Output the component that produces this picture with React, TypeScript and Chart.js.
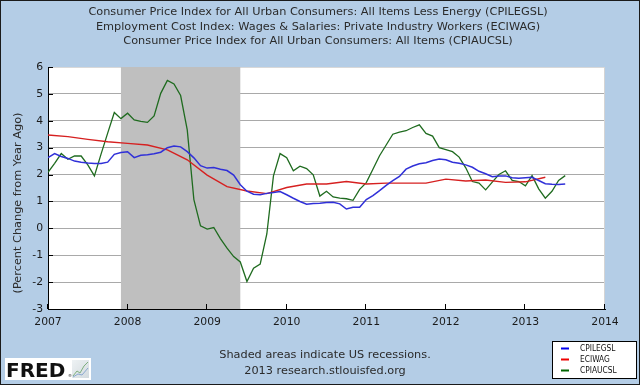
import React, { useEffect, useRef } from "react";
import { Chart, registerables } from "chart.js";

Chart.register(...registerables);

// ---------- DATA ----------
const firstMonth = "2007-01";

// Consumer Price Index less energy, % change from year ago (monthly)
const cpiLessEnergy = [
  2.63, 2.78, 2.67, 2.6, 2.5, 2.46, 2.43, 2.41, 2.41, 2.46, 2.75, 2.82,
  2.85, 2.63, 2.72, 2.74, 2.77, 2.83, 3.0, 3.06, 3.03, 2.85, 2.62, 2.33,
  2.24, 2.26, 2.2, 2.15, 1.98, 1.62, 1.38, 1.27, 1.25, 1.3, 1.33, 1.37,
  1.25, 1.12, 1.0, 0.9, 0.92, 0.93, 0.96, 0.97, 0.91, 0.72, 0.78, 0.78,
  1.07, 1.22, 1.4, 1.6, 1.77, 1.93, 2.2, 2.32, 2.4, 2.44, 2.52, 2.58,
  2.55, 2.46, 2.42, 2.36, 2.27, 2.12, 2.03, 1.92, 1.95, 1.95, 1.88, 1.86,
  1.88, 1.9, 1.78, 1.66, 1.64, 1.63, 1.65,
];

// Employment Cost Index: wages & salaries, % change from year ago (quarterly)
const eciWag = [
  3.47, 3.41, 3.31, 3.22, 3.16, 3.1, 2.92, 2.55, 1.98, 1.55, 1.39, 1.29,
  1.52, 1.65, 1.65, 1.74, 1.65, 1.68, 1.68, 1.68, 1.83, 1.76, 1.8, 1.71,
  1.73, 1.9,
];

// Consumer Price Index all items, % change from year ago (monthly)
const cpiAll = [
  2.08, 2.42, 2.78, 2.57, 2.69, 2.69, 2.36, 1.95, 2.76, 3.54, 4.31, 4.08,
  4.28, 4.03, 3.98, 3.94, 4.18, 5.02, 5.5, 5.37, 4.94, 3.66, 1.07, 0.09,
  -0.03, 0.03, -0.38, -0.74, -1.05, -1.25, -1.98, -1.48, -1.33, -0.21, 1.95, 2.78,
  2.63, 2.14, 2.31, 2.22, 1.99, 1.2, 1.38, 1.17, 1.12, 1.1, 1.04, 1.45,
  1.7, 2.2, 2.7, 3.1, 3.5, 3.58, 3.63, 3.75, 3.85, 3.53, 3.43, 3.0,
  2.93, 2.85, 2.65, 2.25, 1.74, 1.68, 1.43, 1.72, 2.0, 2.14, 1.78, 1.74,
  1.58, 1.96, 1.47, 1.12, 1.38, 1.78, 1.96,
];

const seriesNames = ["CPILEGSL", "ECIWAG", "CPIAUCSL"];
const seriesColors = ["#3030d8", "#d62020", "#1f6b1f"];
const legendColors = ["#0000ee", "#ee0000", "#006400"];

const titleLines = [
  "Consumer Price Index for All Urban Consumers: All Items Less Energy (CPILEGSL)",
  "Employment Cost Index: Wages & Salaries: Private Industry Workers (ECIWAG)",
  "Consumer Price Index for All Urban Consumers: All Items (CPIAUCSL)",
];
const yAxisTitle = "(Percent Change from Year Ago)";
const footerLines = ["Shaded areas indicate US recessions.", "2013 research.stlouisfed.org"];

const yearTicks = [2007, 2008, 2009, 2010, 2011, 2012, 2013, 2014];
const valueTicks = [-3, -2, -1, 0, 1, 2, 3, 4, 5, 6];
const recessionStart = "2007-12";
const recessionEnd = "2009-06";

// ---------- helpers ----------
const toYear = (ym: string) => {
  const [y, m] = ym.split("-").map(Number);
  return y + (m - 1) / 12;
};
const monthSeq = (start: string, n: number, step: number) => {
  const [y0, m0] = start.split("-").map(Number);
  const out: string[] = [];
  for (let i = 0; i < n; i++) {
    const t = (m0 - 1) + i * step;
    const y = y0 + Math.floor(t / 12);
    const m = (t % 12) + 1;
    out.push(`${y}-${String(m).padStart(2, "0")}`);
  }
  return out;
};

const monthlyDates = monthSeq(firstMonth, cpiAll.length, 1);
const quarterlyDates = monthSeq(firstMonth, eciWag.length, 3);

const FONT = "'DejaVu Sans', Verdana, sans-serif";

const decorPlugin = {
  id: "fredDecor",
  beforeDraw(chart: any) {
    const { ctx, width, height, chartArea } = chart;
    ctx.save();
    ctx.fillStyle = "#b4cde6";
    ctx.fillRect(0, 0, width, height);
    ctx.fillStyle = "#ffffff";
    ctx.fillRect(chartArea.left, chartArea.top, chartArea.right - chartArea.left, chartArea.bottom - chartArea.top);
    ctx.restore();
  },
  beforeDatasetsDraw(chart: any) {
    const { ctx, chartArea, scales } = chart;
    const x = scales.x;
    const y = scales.y;
    ctx.save();
    // recession shading
    const x0 = x.getPixelForValue(toYear(recessionStart));
    const x1 = x.getPixelForValue(toYear(recessionEnd));
    ctx.fillStyle = "#bfbfbf";
    ctx.fillRect(x0, chartArea.top, x1 - x0, chartArea.bottom - chartArea.top);
    // right edge
    ctx.strokeStyle = "#d4d4d4";
    ctx.lineWidth = 1;
    ctx.beginPath();
    ctx.moveTo(Math.round(chartArea.right) - 0.5, chartArea.top);
    ctx.lineTo(Math.round(chartArea.right) - 0.5, chartArea.bottom);
    ctx.stroke();
    // inside ticks
    ctx.strokeStyle = "#000";
    ctx.beginPath();
    for (const v of valueTicks) {
      const py = Math.round(y.getPixelForValue(v)) + 0.5;
      ctx.moveTo(chartArea.left, py);
      ctx.lineTo(chartArea.left + 5, py);
    }
    for (const v of yearTicks) {
      const px = Math.round(x.getPixelForValue(v)) - 0.5;
      ctx.moveTo(px, chartArea.bottom);
      ctx.lineTo(px, chartArea.bottom - 5);
    }
    ctx.stroke();
    ctx.restore();
  },
  afterDraw(chart: any) {
    const { ctx, width, height } = chart;
    ctx.save();
    // titles
    ctx.fillStyle = "#2b2b2b";
    ctx.font = `11.3px ${FONT}`;
    ctx.textAlign = "center";
    ctx.textBaseline = "middle";
    titleLines.forEach((t, i) => ctx.fillText(t, 318, 12.5 + i * 14.5));
    // y axis title
    ctx.save();
    ctx.translate(18, 203);
    ctx.rotate(-Math.PI / 2);
    ctx.fillText(yAxisTitle, 0, 0);
    ctx.restore();
    // footer
    footerLines.forEach((t, i) => ctx.fillText(t, 325, 355 + i * 16));

    // legend box
    const lx = 552, ly = 341, lw = 85, lh = 38;
    ctx.fillStyle = "#ffffff";
    ctx.fillRect(lx, ly, lw, lh);
    ctx.strokeStyle = "#000";
    ctx.lineWidth = 1;
    ctx.strokeRect(lx + 0.5, ly + 0.5, lw - 1, lh - 1);
    ctx.font = `8.3px 'DejaVu Sans Condensed', ${FONT}`;
    ctx.textAlign = "left";
    seriesNames.forEach((n, i) => {
      const yy = ly + 7.5 + i * 11;
      ctx.strokeStyle = legendColors[i];
      ctx.lineWidth = 2;
      ctx.beginPath();
      ctx.moveTo(lx + 9, yy);
      ctx.lineTo(lx + 17, yy);
      ctx.stroke();
      ctx.fillStyle = "#111";
      ctx.fillText(n, lx + 28, yy);
    });

    // FRED logo
    ctx.fillStyle = "#ffffff";
    ctx.fillRect(5, 358, 86, 22);
    ctx.fillStyle = "#111";
    ctx.font = `bold 20px ${FONT}`;
    ctx.textAlign = "left";
    ctx.textBaseline = "alphabetic";
    ctx.fillText("FRED", 6, 377);
    ctx.font = `4px ${FONT}`;
    ctx.fillText("®", 68, 377);
    const g = ctx.createLinearGradient(72, 360, 89, 378);
    g.addColorStop(0, "#eef2f4");
    g.addColorStop(1, "#d2dade");
    ctx.fillStyle = g;
    ctx.fillRect(72, 360, 17, 18);
    ctx.lineWidth = 1;
    ctx.strokeStyle = "#7fb07f";
    ctx.beginPath();
    ctx.moveTo(73, 376); ctx.lineTo(77, 371); ctx.lineTo(80, 373); ctx.lineTo(84, 366); ctx.lineTo(88, 362);
    ctx.stroke();
    ctx.strokeStyle = "#8aa8d0";
    ctx.beginPath();
    ctx.moveTo(73, 377); ctx.lineTo(78, 374); ctx.lineTo(82, 375); ctx.lineTo(88, 368);
    ctx.stroke();

    // outer border
    ctx.strokeStyle = "#1a1a1a";
    ctx.lineWidth = 1;
    ctx.strokeRect(0.5, 0.5, width - 1, height - 1);
    ctx.restore();
  },
};

export default function App() {
  const ref = useRef<HTMLCanvasElement | null>(null);

  useEffect(() => {
    document.body.style.margin = "0";
    const canvas = ref.current;
    if (!canvas) return;

    const chart = new Chart(canvas, {
      type: "line",
      data: {
        datasets: [
          {
            label: seriesNames[0],
            data: cpiLessEnergy.map((v, i) => ({ x: toYear(monthlyDates[i]), y: v })),
            borderColor: seriesColors[0],
            borderWidth: 1.5,
          },
          {
            label: seriesNames[1],
            data: eciWag.map((v, i) => ({ x: toYear(quarterlyDates[i]), y: v })),
            borderColor: seriesColors[1],
            borderWidth: 1.4,
          },
          {
            label: seriesNames[2],
            data: cpiAll.map((v, i) => ({ x: toYear(monthlyDates[i]), y: v })),
            borderColor: seriesColors[2],
            borderWidth: 1.3,
          },
        ],
      },
      options: {
        animation: false,
        responsive: false,
        devicePixelRatio: 1,
        layout: { padding: { top: 67, right: 35, left: 0, bottom: 0 } },
        elements: {
          point: { radius: 0 },
          line: { tension: 0, fill: false },
        },
        plugins: {
          legend: { display: false },
          tooltip: { enabled: false },
          title: { display: false },
        },
        scales: {
          x: {
            type: "linear",
            min: yearTicks[0],
            max: yearTicks[yearTicks.length - 1],
            afterBuildTicks: (s: any) => {
              s.ticks = yearTicks.map((v) => ({ value: v }));
            },
            afterFit: (s: any) => {
              s.height = 76;
            },
            grid: { display: false, drawTicks: false },
            border: { display: true, color: "#000", width: 1 },
            ticks: {
              callback: (v: any) => String(v),
              font: { family: FONT, size: 10.8 },
              color: "#1a1a1a",
              padding: 7,
              maxRotation: 0,
              autoSkip: false,
            },
          },
          y: {
            type: "linear",
            min: valueTicks[0],
            max: valueTicks[valueTicks.length - 1],
            afterBuildTicks: (s: any) => {
              s.ticks = valueTicks.map((v) => ({ value: v }));
            },
            afterFit: (s: any) => {
              s.width = 48;
            },
            grid: {
              drawTicks: false,
              lineWidth: 1,
              color: (c: any) =>
                c.tick && c.tick.value === valueTicks[valueTicks.length - 1]
                  ? "#d8d8d8"
                  : c.tick && c.tick.value === valueTicks[0]
                  ? "rgba(0,0,0,0)"
                  : "#a9a9a9",
            },
            border: { display: true, color: "#000", width: 1 },
            ticks: {
              font: { family: FONT, size: 10.8 },
              color: "#1a1a1a",
              padding: 5,
            },
          },
        },
      },
      plugins: [decorPlugin],
    });

    return () => chart.destroy();
  }, []);

  return (
    <div style={{ width: 640, height: 385, overflow: "hidden" }}>
      <canvas ref={ref} width={640} height={385} style={{ display: "block" }} />
    </div>
  );
}
